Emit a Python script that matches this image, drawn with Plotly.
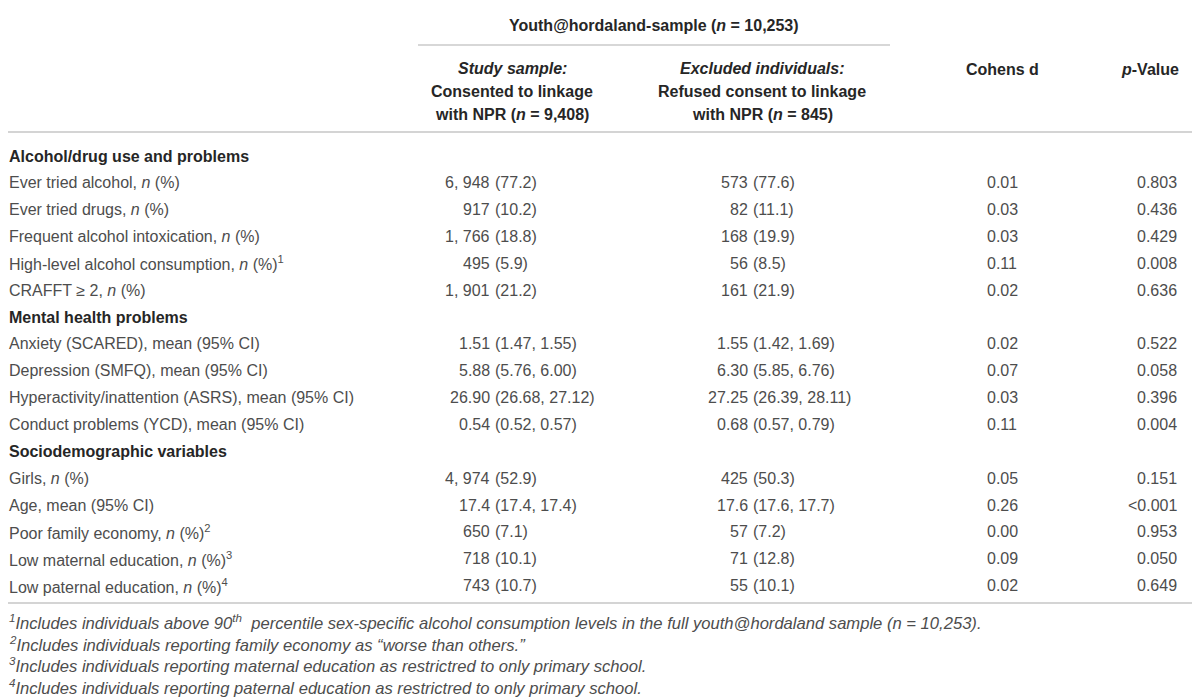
import plotly.graph_objects as go

# ---------------- data ----------------
row_labels = [
    "Alcohol/drug use and problems",
    "Ever tried alcohol, <i>n</i> (%)",
    "Ever tried drugs, <i>n</i> (%)",
    "Frequent alcohol intoxication, <i>n</i> (%)",
    "High-level alcohol consumption, <i>n</i> (%)<sup>1</sup>",
    "CRAFFT ≥ 2, <i>n</i> (%)",
    "Mental health problems",
    "Anxiety (SCARED), mean (95% CI)",
    "Depression (SMFQ), mean (95% CI)",
    "Hyperactivity/inattention (ASRS), mean (95% CI)",
    "Conduct problems (YCD), mean (95% CI)",
    "Sociodemographic variables",
    "Girls, <i>n</i> (%)",
    "Age, mean (95% CI)",
    "Poor family economy, <i>n</i> (%)<sup>2</sup>",
    "Low maternal education, <i>n</i> (%)<sup>3</sup>",
    "Low paternal education, <i>n</i> (%)<sup>4</sup>",
]
is_section = [True, False, False, False, False, False, True, False, False, False, False,
              True, False, False, False, False, False]

study_main = ["", "6, 948", "917", "1, 766", "495", "1, 901", "",
              "1.51", "5.88", "26.90", "0.54", "",
              "4, 974", "17.4", "650", "718", "743"]
study_paren = ["", "(77.2)", "(10.2)", "(18.8)", "(5.9)", "(21.2)", "",
               "(1.47, 1.55)", "(5.76, 6.00)", "(26.68, 27.12)", "(0.52, 0.57)", "",
               "(52.9)", "(17.4, 17.4)", "(7.1)", "(10.1)", "(10.7)"]
excl_main = ["", "573", "82", "168", "56", "161", "",
             "1.55", "6.30", "27.25", "0.68", "",
             "425", "17.6", "57", "71", "55"]
excl_paren = ["", "(77.6)", "(11.1)", "(19.9)", "(8.5)", "(21.9)", "",
              "(1.42, 1.69)", "(5.85, 6.76)", "(26.39, 28.11)", "(0.57, 0.79)", "",
              "(50.3)", "(17.6, 17.7)", "(7.2)", "(12.8)", "(10.1)"]
cohens_d = ["", "0.01", "0.03", "0.03", "0.11", "0.02", "",
            "0.02", "0.07", "0.03", "0.11", "",
            "0.05", "0.26", "0.00", "0.09", "0.02"]
p_values = ["", "0.803", "0.436", "0.429", "0.008", "0.636", "",
            "0.522", "0.058", "0.396", "0.004", "",
            "0.151", "&lt;0.001", "0.953", "0.050", "0.649"]

group_header = "Youth@hordaland-sample (<i>n</i> = 10,253)"
study_header = ["<i>Study sample:</i>", "Consented to linkage", "with NPR (<i>n</i> = 9,408)"]
excl_header = ["<i>Excluded individuals:</i>", "Refused consent to linkage", "with NPR (<i>n</i> = 845)"]
cd_header = "Cohens d"
p_header = "<i>p</i>-Value"
footnotes = [
    "<sup>1</sup>Includes individuals above 90<sup>th</sup>  percentile sex-specific alcohol consumption levels in the full youth@hordaland sample (n = 10,253).",
    "<sup>2</sup>Includes individuals reporting family economy as “worse than others.”",
    "<sup>3</sup>Includes individuals reporting maternal education as restrictred to only primary school.",
    "<sup>4</sup>Includes individuals reporting paternal education as restrictred to only primary school.",
]

# ---------------- layout / style ----------------
W, H = 1200, 699
OFF = 8  # page body margin
FONT = "Liberation Sans, Arial, sans-serif"
TXT = "#4d4d4d"
HDR = "#262626"
LINE = "#d4d4d4"
FS = 16
FS_FOOT = 16.6

x_label = 8
x_c2_split, x_c3_split = 491, 749
gap = 3
x_cd = 1002
x_p = 1178
y_first = 156
dy = 26.85
y_foot = 622
dy_foot = 21.6
hdr_y = [68, 91, 114]

fig = go.Figure()
fig.add_trace(go.Scatter(x=[OFF, W], y=[OFF, H], mode="markers",
                         marker=dict(opacity=0), hoverinfo="skip", showlegend=False))

ann = []

def add(x, y, text, anchor="left", color=TXT, size=FS, bold=False):
    if not text:
        return
    if bold:
        text = "<b>" + text + "</b>"
    ann.append(dict(x=x, y=y, xref="x", yref="y", text=text, showarrow=False,
                    xanchor=anchor, yanchor="middle", align=anchor, borderpad=0,
                    font=dict(family=FONT, size=size, color=color)))

# headers
add(654, 25, group_header, "center", HDR, bold=True)
for k in range(3):
    add(512, hdr_y[k], study_header[k], "center", HDR, bold=True)
    add(762, hdr_y[k], excl_header[k], "center", HDR, bold=True)
add(x_cd, 69, cd_header, "center", HDR, bold=True)
add(x_p + 2, 69, p_header, "right", HDR, bold=True)

# body
for i, lab in enumerate(row_labels):
    y = y_first + i * dy
    if is_section[i]:
        add(x_label, y, lab, "left", HDR, bold=True)
        continue
    add(x_label, y, lab, "left")
    add(x_c2_split, y, study_main[i], "right")
    add(x_c2_split + gap, y, study_paren[i], "left")
    add(x_c3_split, y, excl_main[i], "right")
    add(x_c3_split + gap, y, excl_paren[i], "left")
    add(x_cd, y, cohens_d[i], "center")
    add(x_p, y, p_values[i], "right")

# footnotes
for j, fn in enumerate(footnotes):
    add(x_label, y_foot + j * dy_foot, "<i>" + fn + "</i>", "left", TXT, FS_FOOT)

shapes = [
    dict(type="line", xref="x", yref="y", x0=0, x1=1195, y0=5, y1=5, line=dict(color=LINE, width=2)),
    dict(type="line", xref="x", yref="y", x0=418, x1=890, y0=45, y1=45, line=dict(color="#b0b0b0", width=1.2)),
    dict(type="line", xref="x", yref="y", x0=0, x1=1195, y0=132, y1=132, line=dict(color=LINE, width=2)),
    dict(type="line", xref="x", yref="y", x0=0, x1=1195, y0=603, y1=603, line=dict(color=LINE, width=2)),
]

fig.update_layout(
    width=W, height=H,
    margin=dict(l=0, r=0, t=0, b=0),
    paper_bgcolor="white", plot_bgcolor="white",
    xaxis=dict(range=[OFF, W + OFF], visible=False, fixedrange=True),
    yaxis=dict(range=[H + OFF, OFF], visible=False, fixedrange=True),
    annotations=ann, shapes=shapes, showlegend=False,
)
fig.write_html("out.html")
